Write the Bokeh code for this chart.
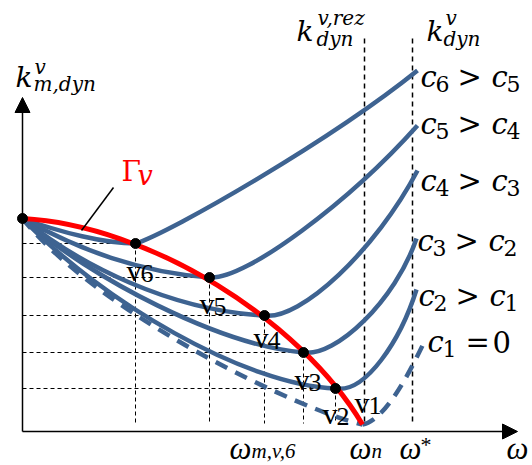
from bokeh.plotting import figure
from bokeh.models import Range1d, ColumnDataSource, Arrow, NormalHead
from bokeh.core.properties import value
from bokeh.embed import file_html
from bokeh.resources import INLINE

# ---------------- data (omega, k) in schematic units ----------------
curve_names = ["c6", "c5", "c4", "c3", "c2", "c1"]
omega_start, k_start = 0, 213
omega_min = [113, 187, 242, 281, 313, 340]      # v6 .. v1
k_min = [188, 154, 116, 79, 43, 7]
omega_end = [395, 395, 395, 394, 394, 401]
k_end = [361, 306, 261, 193, 142, 88]
# bezier handles of the falling branch
left_h1_omega = [38, 58, 58, 68, 78, 78]
left_h1_k = [199, 181, 166, 153, 131, 116]
left_h2_omega = [83, 118, 148, 198, 223, 278]
left_h2_k = [188, 159, 121, 86, 46, 21]
# bezier handles of the rising branch
right_h1_omega = [148, 223, 278, 313, 343, 363]
right_h1_k = [199, 151, 111, 74, 38, 11]
right_h2_omega = [308, 328, 353, 373, 378, 388]
right_h2_k = [291, 231, 181, 131, 91, 61]
# Gamma_v curve (bezier: start, handle, handle, end)
gamma_omega = [0, 128, 278, 340]
gamma_k = [213, 206, 111, 7]
omega_n = 342
omega_star = 390
k_guide_bottom = 8
k_guide_top = 393
v_labels = ["6", "5", "4", "3", "2", "1"]
c_rel = [">", ">", ">", ">", ">", "="]
c_rhs_letter = ["c", "c", "c", "c", "c", ""]
c_rhs = ["5", "4", "3", "2", "1", "0"]

BLUE = "#3e6391"
RED = "#ff0000"

p = figure(width=532, height=465, x_range=Range1d(-22, 510), y_range=Range1d(-34, 431),
           x_axis_type=None, y_axis_type=None, toolbar_location=None,
           output_backend="svg", min_border=0, outline_line_color=None,
           background_fill_color="white", border_fill_color="white")
p.grid.visible = False

# ---------------- guide lines ----------------
n_guides = 5
p.segment(x0=[omega_start] * n_guides, y0=k_min[:n_guides], x1=omega_min[:n_guides], y1=k_min[:n_guides],
          line_color="black", line_width=1, line_dash="4 3")
p.segment(x0=omega_min[:n_guides], y0=k_min[:n_guides], x1=omega_min[:n_guides], y1=[k_guide_bottom] * n_guides,
          line_color="black", line_width=1, line_dash="4 3")
p.segment(x0=[omega_n, omega_star], y0=[k_guide_top] * 2, x1=[omega_n, omega_star], y1=[k_guide_bottom] * 2,
          line_color="black", line_width=1.5, line_dash="5 4")

# ---------------- axes with arrows ----------------
p.add_layout(Arrow(end=NormalHead(size=15, fill_color="black", line_color="black"),
                   x_start=0, y_start=0, x_end=0, y_end=334, line_width=1.5, level="underlay"))
p.add_layout(Arrow(end=NormalHead(size=15, fill_color="black", line_color="black"),
                   x_start=0, y_start=0, x_end=495, y_end=0, line_width=1.5, level="underlay"))

# ---------------- curves ----------------
ns = 5
solid = dict(
    x0=[omega_start] * ns, y0=[k_start] * ns, x1=omega_min[:ns], y1=k_min[:ns],
    cx0=left_h1_omega[:ns], cy0=left_h1_k[:ns], cx1=left_h2_omega[:ns], cy1=left_h2_k[:ns])
p.bezier(source=ColumnDataSource(solid), x0="x0", y0="y0", x1="x1", y1="y1",
         cx0="cx0", cy0="cy0", cx1="cx1", cy1="cy1", line_color=BLUE, line_width=4.5)
solid_r = dict(
    x0=omega_min[:ns], y0=k_min[:ns], x1=omega_end[:ns], y1=k_end[:ns],
    cx0=right_h1_omega[:ns], cy0=right_h1_k[:ns], cx1=right_h2_omega[:ns], cy1=right_h2_k[:ns])
p.bezier(source=ColumnDataSource(solid_r), x0="x0", y0="y0", x1="x1", y1="y1",
         cx0="cx0", cy0="cy0", cx1="cx1", cy1="cy1", line_color=BLUE, line_width=4.5)
# c1 = 0 dashed
p.bezier(x0=[omega_start, omega_min[5]], y0=[k_start, k_min[5]],
         x1=[omega_min[5], omega_end[5]], y1=[k_min[5], k_end[5]],
         cx0=[left_h1_omega[5], right_h1_omega[5]], cy0=[left_h1_k[5], right_h1_k[5]],
         cx1=[left_h2_omega[5], right_h2_omega[5]], cy1=[left_h2_k[5], right_h2_k[5]],
         line_color=BLUE, line_width=4.5, line_dash="13 9")

# Gamma_v
p.bezier(x0=[gamma_omega[0]], y0=[gamma_k[0]], x1=[gamma_omega[3]], y1=[gamma_k[3]],
         cx0=[gamma_omega[1]], cy0=[gamma_k[1]], cx1=[gamma_omega[2]], cy1=[gamma_k[2]],
         line_color=RED, line_width=5)

# dots
p.scatter(x=[omega_start] + omega_min[:5], y=[k_start] + k_min[:5], size=10,
          fill_color="black", line_color="black")

# leader line to Gamma label
p.segment(x0=[91], y0=[244], x1=[59], y1=[201], line_color="black", line_width=1.5)


# ---------------- texts ----------------
def txt(xs, ys, texts, size, style="normal", font="DejaVu Serif", color="black", xo=None, yo=None):
    n = len(xs)
    shift = -round(0.23 * size)
    src = ColumnDataSource(dict(x=xs, y=ys, t=texts,
                                xo=xo if xo is not None else [0] * n,
                                yo=[v + shift for v in (yo if yo is not None else [0] * n)]))
    p.text(x="x", y="y", text="t", source=src, x_offset="xo", y_offset="yo",
           text_font=value(font), text_font_size=value(f"{size}px"),
           text_font_style=style, text_color=color,
           text_align="left", text_baseline="alphabetic")


# y-axis title k^v_{m,dyn}
txt([-7], [348], ["k"], 28, "italic")
txt([12], [360], ["v"], 20, "italic")
txt([11], [343], ["m,dyn"], 20, "italic")
# k^{v,rez}_{dyn} and k^v_{dyn}
txt([274, 404], [394, 394], ["k", "k"], 28, "italic")
txt([295, 423], [409, 409], ["v,rez", "v"], 20, "italic")
txt([294, 421], [388, 388], ["dyn", "dyn"], 20, "italic")

# Gamma_v
txt([99], [254], ["Γ"], 28, "normal", color=RED)
txt([115], [250], ["v"], 27, "italic", color=RED)

# v labels
v_lab_x = [104, 177, 231, 272, 300, 332]
v_lab_y = [154, 121, 87, 45, 11, 22]
txt(v_lab_x, v_lab_y, ["v"] * 6, 30, "normal", font="Liberation Serif")
txt(v_lab_x, v_lab_y, v_labels, 26, "normal", font="Liberation Serif", xo=[14] * 6, yo=[2] * 6)

# c labels on the right
c_x = [398, 398, 398, 395, 396, 405]
c_y = [348, 301, 244, 184, 129, 83]
txt(c_x, c_y, ["c"] * 6, 29, "italic")
txt(c_x, c_y, ["6", "5", "4", "3", "2", "1"], 22, "normal", xo=[15] * 6, yo=[5] * 6)
txt(c_x, c_y, c_rel, 29, "normal", xo=[37] * 5 + [38], yo=[0] * 6)
txt(c_x[:5], c_y[:5], c_rhs_letter[:5], 29, "italic", xo=[71] * 5, yo=[0] * 5)
txt(c_x[:5], c_y[:5], c_rhs[:5], 22, "normal", xo=[86] * 5, yo=[5] * 5)
txt([c_x[5]], [c_y[5]], [c_rhs[5]], 29, "normal", xo=[65], yo=[0])

# omega labels
txt([207, 327, 377, 484], [-24, -24, -24, -24], ["ω", "ω", "ω", "ω"], 31, "italic", font="Liberation Serif")
txt([229, 349], [-24, -24], ["m,v,6", "n"], 21, "italic", font="Liberation Serif")
txt([398], [-18], ["*"], 22, "normal", font="Liberation Serif")

open("out.html", "w").write(file_html(p, INLINE))
